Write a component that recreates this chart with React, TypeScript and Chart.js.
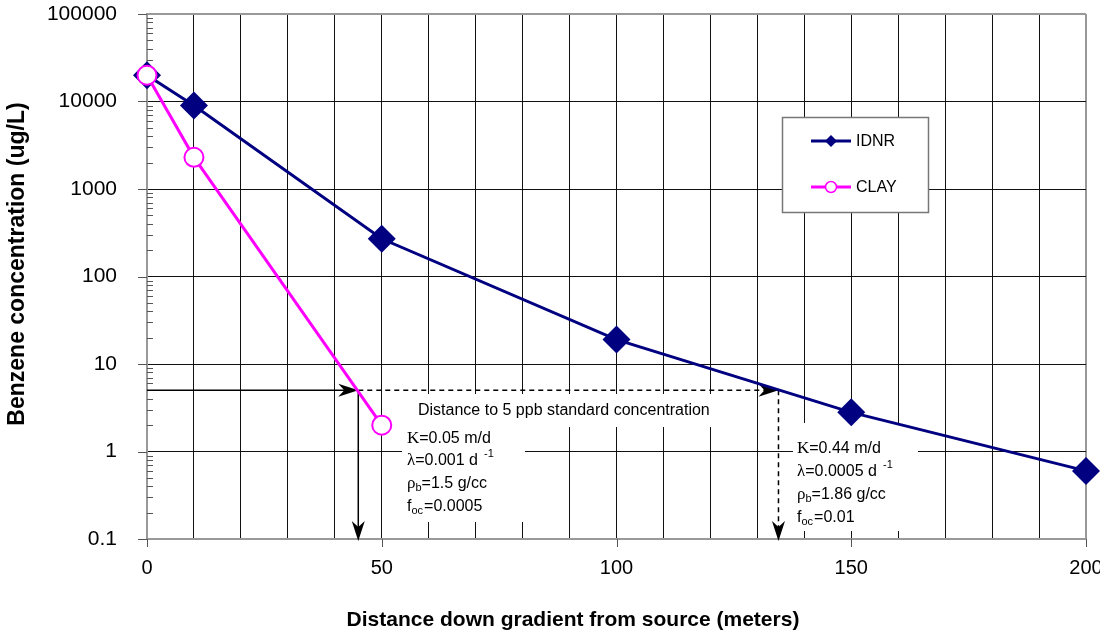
import React, { useEffect, useRef } from "react";
import { Chart, registerables } from "chart.js";

Chart.register(...registerables);

// ---- data ----
const idnrDistance = [0, 10, 50, 100, 150, 200];
const idnrConc = [20000, 9000, 270, 19, 2.8, 0.6];
const clayDistance = [0, 10, 50];
const clayConc = [20000, 2300, 2];

const yTickValues = [0.1, 1, 10, 100, 1000, 10000, 100000];
const yTickLabels = ["0.1", "1", "10", "100", "1000", "10000", "100000"];
const xLabelValues = [0, 50, 100, 150, 200];
const xGridStep = 10;

const standardConc = 5;
const clayStdDistance = 45;
const idnrStdDistance = 134.5;
const annotationTitle = "Distance to 5 ppb standard concentration";
const clayParams = ["0.05 m/d", "0.001 d", "1.5 g/cc", "0.0005"];
const idnrParams = ["0.44 m/d", "0.0005 d", "1.86 g/cc", "0.01"];

const seriesNames = ["IDNR", "CLAY"];
const yTitle = "Benzene concentration (ug/L)";
const xTitle = "Distance down gradient from source (meters)";

const SANS = "Arial, 'Liberation Sans', Helvetica, sans-serif";
const SERIF = "'Liberation Serif', 'Times New Roman', serif";

function arrowHead(ctx: CanvasRenderingContext2D, tx: number, ty: number, dx: number, dy: number) {
  const len = 20, hw = 6.5, notch = 6;
  const px = -dy, py = dx;
  const bx = tx - dx * len, by = ty - dy * len;
  ctx.beginPath();
  ctx.moveTo(tx, ty);
  ctx.lineTo(bx + px * hw, by + py * hw);
  ctx.lineTo(tx - dx * (len - notch), ty - dy * (len - notch));
  ctx.lineTo(bx - px * hw, by - py * hw);
  ctx.closePath();
  ctx.fill();
}

function drawParams(ctx: CanvasRenderingContext2D, x: number, ys: number[], vals: string[]) {
  ctx.fillStyle = "#000";
  ctx.textBaseline = "middle";
  ctx.textAlign = "left";
  const main = `16px ${SANS}`;
  const ser = `17px ${SERIF}`;
  const small = `11px ${SANS}`;
  let cx: number;
  cx = x;
  ctx.font = ser; ctx.fillText("K", cx, ys[0]); cx += ctx.measureText("K").width;
  ctx.font = main; ctx.fillText("=" + vals[0], cx, ys[0]);
  cx = x;
  ctx.font = ser; ctx.fillText("\u03BB", cx, ys[1]); cx += ctx.measureText("\u03BB").width;
  ctx.font = main; ctx.fillText("=" + vals[1], cx, ys[1]); cx += ctx.measureText("=" + vals[1]).width;
  ctx.font = small; ctx.fillText("  -1", cx, ys[1] - 7);
  cx = x;
  ctx.font = ser; ctx.fillText("\u03C1", cx, ys[2]); cx += ctx.measureText("\u03C1").width;
  ctx.font = small; ctx.fillText("b", cx, ys[2] + 4); cx += ctx.measureText("b").width;
  ctx.font = main; ctx.fillText("=" + vals[2], cx, ys[2]);
  cx = x;
  ctx.font = main; ctx.fillText("f", cx, ys[3]); cx += ctx.measureText("f").width;
  ctx.font = small; ctx.fillText("oc", cx, ys[3] + 4); cx += ctx.measureText("oc").width + 1;
  ctx.font = main; ctx.fillText("=" + vals[3], cx, ys[3]);
}

const customPlugin = {
  id: "custom",
  beforeDatasetsDraw(chart: any) {
    const ctx: CanvasRenderingContext2D = chart.ctx;
    const xs = chart.scales.x, ys = chart.scales.y;
    const area = chart.chartArea;
    ctx.save();
    ctx.strokeStyle = "#555";
    ctx.lineWidth = 1;
    ctx.beginPath();
    yTickValues.forEach((v, i) => {
      const py = Math.round(ys.getPixelForValue(v)) + 0.5;
      ctx.moveTo(area.left - 9, py);
      ctx.lineTo(area.left, py);
      if (i < yTickValues.length - 1) {
        for (let m = 2; m <= 9; m++) {
          const my = Math.round(ys.getPixelForValue(v * m)) + 0.5;
          ctx.moveTo(area.left, my);
          ctx.lineTo(area.left + 6, my);
        }
      }
    });
    xLabelValues.forEach((v) => {
      const px = Math.round(xs.getPixelForValue(v)) + 0.5;
      ctx.moveTo(px, area.bottom);
      ctx.lineTo(px, area.bottom + 8);
    });
    ctx.stroke();

    const yStd = ys.getPixelForValue(standardConc);
    const xClay = xs.getPixelForValue(clayStdDistance);
    const xIdnr = xs.getPixelForValue(idnrStdDistance);
    ctx.strokeStyle = "#000";
    ctx.fillStyle = "#000";
    ctx.lineWidth = 1.5;
    ctx.setLineDash([]);
    ctx.beginPath();
    ctx.moveTo(area.left, yStd);
    ctx.lineTo(xClay - 8, yStd);
    ctx.moveTo(xClay, yStd);
    ctx.lineTo(xClay, area.bottom - 8);
    ctx.stroke();
    ctx.setLineDash([5, 4]);
    ctx.beginPath();
    ctx.moveTo(xClay, yStd);
    ctx.lineTo(xIdnr - 8, yStd);
    ctx.moveTo(xIdnr, yStd);
    ctx.lineTo(xIdnr, area.bottom - 8);
    ctx.stroke();
    ctx.setLineDash([]);
    arrowHead(ctx, xClay, yStd, 1, 0);
    arrowHead(ctx, xIdnr, yStd, 1, 0);
    arrowHead(ctx, xClay, area.bottom + 2, 0, 1);
    arrowHead(ctx, xIdnr, area.bottom + 2, 0, 1);

    ctx.fillStyle = "#fff";
    ctx.fillRect(405, 394, 316, 33);
    ctx.fillRect(402, 427, 123, 95);
    ctx.fillRect(793, 423, 125, 108);
    ctx.fillStyle = "#000";
    ctx.font = `16px ${SANS}`;
    ctx.textBaseline = "middle";
    ctx.textAlign = "left";
    ctx.fillText(annotationTitle, 418, 411);
    drawParams(ctx, 407, [439, 461, 484, 507], clayParams);
    drawParams(ctx, 797, [449, 472, 495, 518], idnrParams);
    ctx.restore();
  },
  afterDraw(chart: any) {
    const ctx: CanvasRenderingContext2D = chart.ctx;
    const ds = chart.data.datasets;
    ctx.save();
    const lx = 782, ly = 117, lw = 146, lh = 95;
    ctx.fillStyle = "#fff";
    ctx.fillRect(lx, ly, lw, lh);
    ctx.strokeStyle = "#777";
    ctx.lineWidth = 1.5;
    ctx.strokeRect(lx + 0.5, ly + 0.5, lw, lh);
    const rows = [141, 187];
    ds.forEach((d: any, i: number) => {
      const y = rows[i];
      ctx.strokeStyle = d.borderColor;
      ctx.lineWidth = 3;
      ctx.beginPath();
      ctx.moveTo(811, y);
      ctx.lineTo(851, y);
      ctx.stroke();
      if (d.pointStyle === "rectRot") {
        ctx.fillStyle = d.borderColor;
        ctx.beginPath();
        ctx.moveTo(831, y - 6);
        ctx.lineTo(837, y);
        ctx.lineTo(831, y + 6);
        ctx.lineTo(825, y);
        ctx.closePath();
        ctx.fill();
      } else {
        ctx.fillStyle = "#fff";
        ctx.lineWidth = 1.5;
        ctx.beginPath();
        ctx.arc(831, y, 5.5, 0, Math.PI * 2);
        ctx.fill();
        ctx.stroke();
      }
      ctx.fillStyle = "#000";
      ctx.font = `16px ${SANS}`;
      ctx.textAlign = "left";
      ctx.textBaseline = "middle";
      ctx.fillText(d.label, 856, y + 1);
    });
    ctx.fillStyle = "#000";
    ctx.textAlign = "center";
    ctx.textBaseline = "middle";
    ctx.font = `bold 21px ${SANS}`;
    ctx.fillText(xTitle, 573, 620);
    ctx.save();
    ctx.translate(18, 264);
    ctx.rotate(-Math.PI / 2);
    ctx.font = `bold 23px ${SANS}`;
    ctx.fillText(yTitle, 0, 0);
    ctx.restore();
    ctx.restore();
  },
};

export default function App() {
  const ref = useRef<HTMLCanvasElement | null>(null);
  useEffect(() => {
    document.body.style.margin = "0";
    if (!ref.current) return;
    const edge = "#999";
    const chart = new Chart(ref.current, {
      type: "line",
      data: {
        datasets: [
          {
            label: seriesNames[0],
            data: idnrDistance.map((x, i) => ({ x, y: idnrConc[i] })),
            borderColor: "#000080",
            backgroundColor: "#000080",
            pointBackgroundColor: "#000080",
            pointBorderColor: "#000080",
            borderWidth: 3,
            pointStyle: "rectRot",
            pointRadius: 14,
            pointHoverRadius: 14,
            pointBorderWidth: 0,
            tension: 0,
            order: 2,
            clip: false,
          } as any,
          {
            label: seriesNames[1],
            data: clayDistance.map((x, i) => ({ x, y: clayConc[i] })),
            borderColor: "#FF00FF",
            backgroundColor: "#FFFFFF",
            pointBackgroundColor: "#FFFFFF",
            pointBorderColor: "#FF00FF",
            borderWidth: 3,
            pointStyle: "circle",
            pointRadius: 9.5,
            pointHoverRadius: 9.5,
            pointBorderWidth: 2,
            tension: 0,
            order: 1,
            clip: false,
          } as any,
        ],
      },
      options: {
        animation: false,
        responsive: true,
        maintainAspectRatio: false,
        events: [],
        layout: { padding: { top: 13, right: 14, left: 0, bottom: 0 } },
        plugins: { legend: { display: false }, tooltip: { enabled: false } },
        scales: {
          x: {
            type: "linear",
            min: 0,
            max: 200,
            afterFit: (s: any) => {
              s.height = 95;
              s.paddingLeft = 0;
              s.paddingRight = 0;
            },
            ticks: {
              stepSize: xGridStep,
              autoSkip: false,
              maxRotation: 0,
              padding: 17,
              color: "#000",
              font: { family: SANS, size: 20 },
              callback: (v: any) => (xLabelValues.includes(Number(v)) ? String(v) : ""),
            },
            grid: {
              drawTicks: false,
              color: (c: any) => (c.tick && (c.tick.value === 0 || c.tick.value === 200) ? edge : "#111"),
              lineWidth: (c: any) => (c.tick && (c.tick.value === 0 || c.tick.value === 200) ? 2 : 1),
            },
            border: { display: true, color: edge, width: 2 },
          },
          y: {
            type: "logarithmic",
            min: 0.1,
            max: 100000,
            afterBuildTicks: (s: any) => {
              s.ticks = yTickValues.map((v) => ({ value: v }));
            },
            afterFit: (s: any) => {
              s.width = 147;
              s.paddingTop = 0;
              s.paddingBottom = 0;
            },
            ticks: {
              autoSkip: false,
              padding: 30,
              color: "#000",
              font: { family: SANS, size: 21 },
              callback: (v: any) => {
                const i = yTickValues.findIndex((t) => Math.abs(t - Number(v)) < 1e-9 * Math.max(1, t));
                return i >= 0 ? yTickLabels[i] : "";
              },
            },
            grid: {
              drawTicks: false,
              color: (c: any) => (c.tick && (c.tick.value === 0.1 || c.tick.value === 100000) ? edge : "#111"),
              lineWidth: (c: any) => (c.tick && (c.tick.value === 0.1 || c.tick.value === 100000) ? 2 : 1),
            },
            border: { display: true, color: edge, width: 2 },
          },
        },
      },
      plugins: [customPlugin],
    } as any);
    return () => chart.destroy();
  }, []);
  return (
    <div style={{ width: 1100, height: 634, position: "relative" }}>
      <canvas ref={ref} />
    </div>
  );
}
